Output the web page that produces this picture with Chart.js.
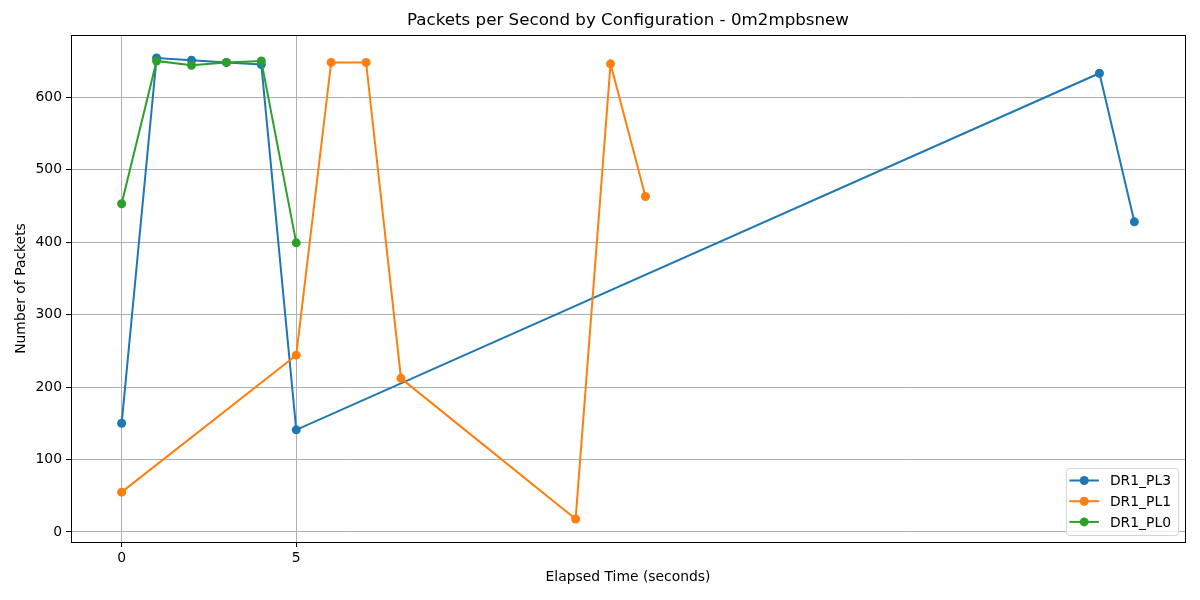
<!DOCTYPE html>
<html>
<head>
<meta charset="utf-8">
<script src="https://cdn.jsdelivr.net/npm/chart.js@4.4.1/dist/chart.umd.min.js"></script>
<style>
  html, body { margin: 0; padding: 0; background: #fff; }
  #wrap { width: 1200px; height: 600px; }
</style>
</head>
<body>
<div id="wrap"><canvas id="grafico" width="1200" height="600"></canvas></div>
<script>
// dados
const tempoPL3 = [0, 1, 2, 3, 4, 5, 28, 29];
const pacotesPL3 = [150, 654, 651, 648, 645, 141, 633, 428];

const tempoPL1 = [0, 5, 6, 7, 8, 13, 14, 15];
const pacotesPL1 = [55, 244, 648, 648, 212, 18, 646, 463];

const tempoPL0 = [0, 1, 2, 3, 4, 5];
const pacotesPL0 = [453, 650, 644, 648, 650, 399];

const nomes = ['DR1_PL3', 'DR1_PL1', 'DR1_PL0'];
const cores = ['#1f77b4', '#ff7f0e', '#2ca02c'];
const ticksX = [0, 5];
const ticksY = [0, 100, 200, 300, 400, 500, 600];
const titulo = 'Packets per Second by Configuration - 0m2mpbsnew';

const fonte = 'DejaVu Sans';

function pontos(xs, ys) {
  return xs.map((x, i) => ({ x: x, y: ys[i] }));
}

function serie(i, dados, ordem) {
  return {
    label: nomes[i],
    data: dados,
    borderColor: cores[i],
    backgroundColor: cores[i],
    borderWidth: 2,
    pointRadius: 4.5,
    pointBorderWidth: 0,
    pointHoverRadius: 4.5,
    tension: 0,
    order: ordem
  };
}

// moldura preta em volta da área do gráfico + título centrado na área
const moldura = {
  id: 'moldura',
  afterDatasetsDraw(chart) {
    const a = chart.chartArea;
    const ctx = chart.ctx;
    ctx.save();
    ctx.strokeStyle = '#000';
    ctx.lineWidth = 1;
    ctx.strokeRect(Math.round(a.left) + 0.5, Math.round(a.top) + 0.5,
      Math.round(a.right - a.left), Math.round(a.bottom - a.top));
    ctx.fillStyle = '#000';
    ctx.font = '16.7px "' + fonte + '"';
    ctx.textAlign = 'center';
    ctx.textBaseline = 'middle';
    ctx.fillText(titulo, (a.left + a.right) / 2, a.top - 14);
    ctx.restore();
  }
};

// legenda no canto inferior direito (dentro da área)
const legenda = {
  id: 'legenda',
  afterDraw(chart) {
    const a = chart.chartArea;
    const ctx = chart.ctx;
    ctx.save();
    ctx.font = '13.9px "' + fonte + '"';
    let larg = 0;
    nomes.forEach(n => { larg = Math.max(larg, ctx.measureText(n).width); });
    const w = 44 + larg + 7;
    const h = 67;
    const x0 = a.right - 7 - w;
    const y0 = a.bottom - 7 - h;
    ctx.beginPath();
    ctx.roundRect(x0 + 0.5, y0 + 0.5, w, h, 3);
    ctx.fillStyle = 'rgba(255,255,255,0.8)';
    ctx.fill();
    ctx.strokeStyle = '#d5d5d5';
    ctx.lineWidth = 1;
    ctx.stroke();
    nomes.forEach((n, i) => {
      const yc = y0 + 12.5 + i * 20.7;
      ctx.strokeStyle = cores[i];
      ctx.lineWidth = 2;
      ctx.beginPath();
      ctx.moveTo(x0 + 3.5, yc);
      ctx.lineTo(x0 + 33, yc);
      ctx.stroke();
      ctx.fillStyle = cores[i];
      ctx.beginPath();
      ctx.arc(x0 + 18.3, yc, 4.5, 0, Math.PI * 2);
      ctx.fill();
      ctx.fillStyle = '#000';
      ctx.textBaseline = 'middle';
      ctx.fillText(n, x0 + 44, yc + 1);
    });
    ctx.restore();
  }
};

const ctx = document.getElementById('grafico').getContext('2d');
new Chart(ctx, {
  type: 'line',
  data: {
    datasets: [
      serie(0, pontos(tempoPL3, pacotesPL3), 3),
      serie(1, pontos(tempoPL1, pacotesPL1), 2),
      serie(2, pontos(tempoPL0, pacotesPL0), 1)
    ]
  },
  options: {
    responsive: false,
    animation: false,
    devicePixelRatio: 1,
    layout: { padding: { left: 9, right: 15, top: 35, bottom: 10 } },
    plugins: {
      legend: { display: false },
      tooltip: { enabled: false },
      title: { display: false }
    },
    scales: {
      x: { // horizontal
        type: 'linear',
        min: -1.45,
        max: 30.45,
        afterBuildTicks(scale) { scale.ticks = ticksX.map(v => ({ value: v })); },
        afterFit(scale) { scale.height = 48; },
        ticks: {
          color: '#000',
          font: { family: fonte, size: 13.9 },
          padding: 3,
          maxRotation: 0
        },
        grid: { color: '#b0b0b0', lineWidth: 1, tickColor: '#000', tickLength: 5 },
        border: { display: false },
        title: {
          display: true,
          text: 'Elapsed Time (seconds)',
          color: '#000',
          font: { family: fonte, size: 13.9 },
          padding: { top: 4, bottom: 4 }
        }
      },
      y: { // vertical
        type: 'linear',
        min: -13.8,
        max: 685.8,
        afterBuildTicks(scale) { scale.ticks = ticksY.map(v => ({ value: v })); },
        afterFit(scale) { scale.width = 62; },
        ticks: {
          color: '#000',
          font: { family: fonte, size: 13.9 },
          padding: 4
        },
        grid: { color: '#b0b0b0', lineWidth: 1, tickColor: '#000', tickLength: 5 },
        border: { display: false },
        title: {
          display: true,
          text: 'Number of Packets',
          color: '#000',
          font: { family: fonte, size: 13.9 },
          padding: { top: 4, bottom: 4 }
        }
      }
    }
  },
  plugins: [moldura, legenda]
});
</script>
</body>
</html>
